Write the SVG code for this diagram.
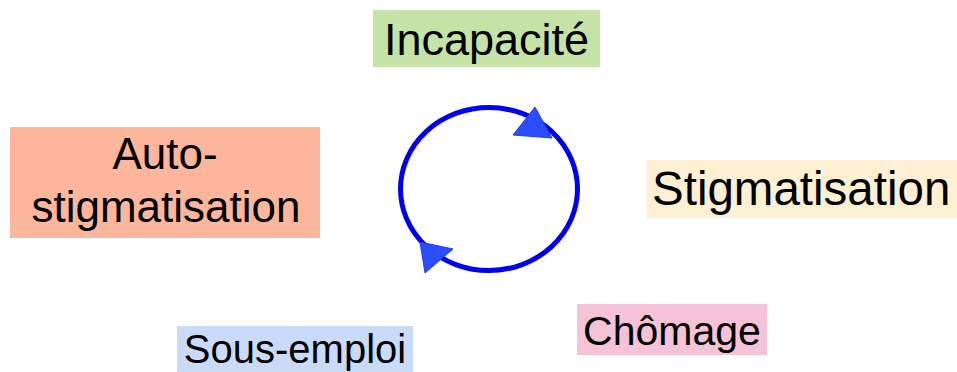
<svg xmlns="http://www.w3.org/2000/svg" width="957" height="372" viewBox="0 0 957 372">
<style>
.t{font-family:"Liberation Sans",Arial,sans-serif;fill:#000}
.arr{fill:#2a4dff;stroke:#1f3cff;stroke-width:1;stroke-linejoin:miter}
</style>
<rect width="957" height="372" fill="#fff"/>
<g id="incapacite">
<rect x="373" y="10" width="227" height="57" fill="#c5e3a6"/>
<text class="t" x="486.5" y="55" font-size="45" text-anchor="middle">Incapacité</text>
</g>
<g id="auto-stigmatisation">
<rect x="10" y="127" width="310" height="111" fill="#fbb69b"/>
<text class="t" x="165" y="169" font-size="44" text-anchor="middle">Auto-</text>
<text class="t" x="166" y="222" font-size="44" text-anchor="middle">stigmatisation</text>
</g>
<g id="stigmatisation">
<rect x="647" y="160" width="310" height="58" fill="#fdf0d2"/>
<text class="t" x="652" y="205" font-size="47.5">Stigmatisation</text>
</g>
<g id="chomage">
<rect x="577" y="304" width="190" height="51" fill="#f5c3d7"/>
<text class="t" x="672" y="345" font-size="41" text-anchor="middle">Chômage</text>
</g>
<g id="sous-emploi">
<rect x="177" y="326" width="236" height="46" fill="#cadbf8"/>
<text class="t" x="295" y="363" font-size="40" text-anchor="middle">Sous-emploi</text>
</g>
<g id="connectors">
<ellipse cx="489" cy="189" rx="88.5" ry="81.5" fill="none" stroke="#0000f0" stroke-width="5"/>
<polygon class="arr" points="535,107 513,135 552,138"/>
<polygon class="arr" points="420,242 453,249 425,273"/>
</g>
</svg>
